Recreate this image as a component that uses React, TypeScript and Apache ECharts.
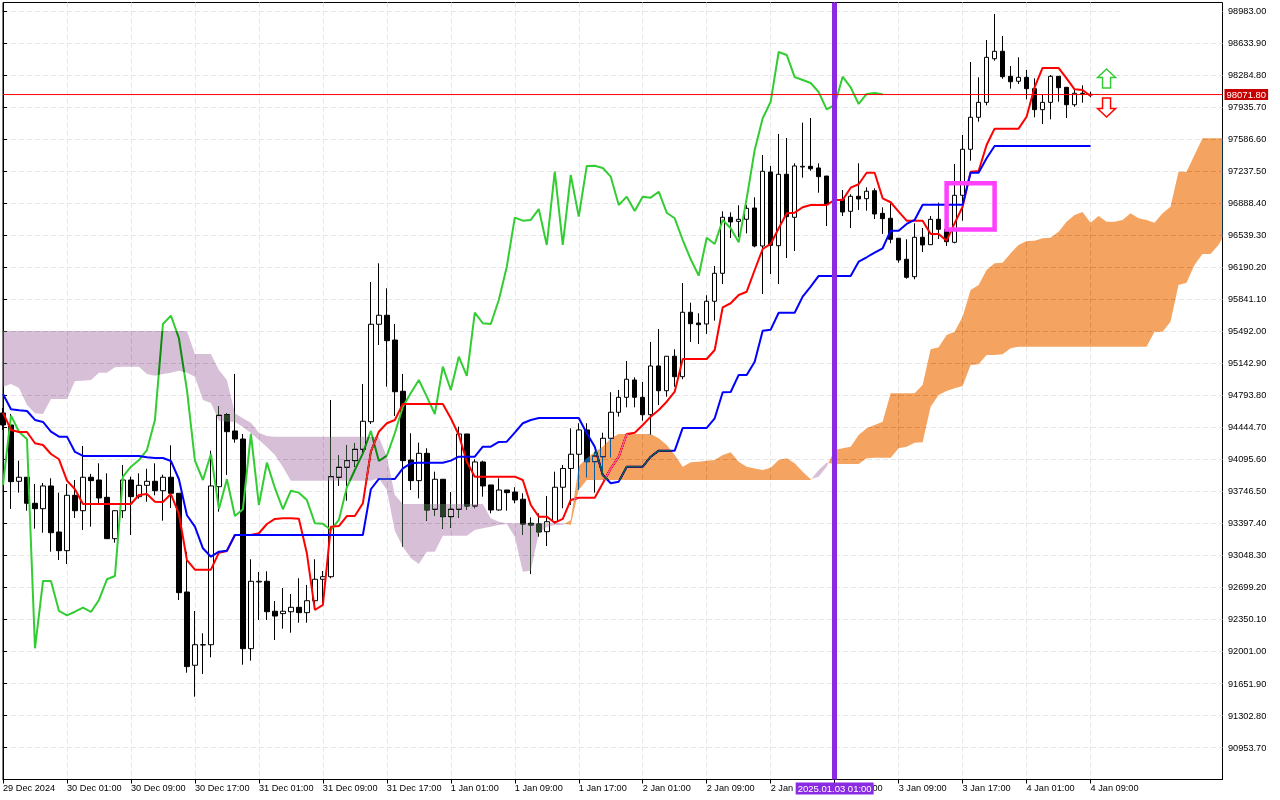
import React, { useEffect, useRef } from "react";
import * as echarts from "echarts";

// Candle series: index = bar number (one bar per hour)
const opens = [
  94603,94472,93858,93902,93618,93559,93807,93305,93101,93705,
  93537,93902,93872,93683,93232,93537,93872,93690,93814,93858,
  93755,93902,93727,92650,91851,92072,92075,93799,94584,94407,
  94319,92032,92760,92767,92440,92414,92435,92483,92425,92555,
  92789,92817,93902,94011,94083,94207,94508,95571,95669,95399,
  94840,94090,93865,94163,93553,93880,93472,93553,94374,93588,
  94069,93818,93545,93763,93741,93662,93400,93392,93308,93417,
  93793,93998,94153,94418,94072,94126,94327,94611,94774,94963,
  94774,94584,95116,94846,95222,94999,95702,95585,95574,95822,
  96127,96738,96694,96716,96839,96425,97232,96428,97207,96738,
  97287,97294,97276,97188,96875,96934,96803,96967,96941,97028,
  96781,96727,96509,96280,96090,96520,96439,96716,96607,96465,
  96978,97480,97829,97992,98468,98549,98276,98222,98265,98141,
  97912,97992,98276,98156,97966,98087,98080,
];
const closes = [
  94472,93854,93902,93618,93559,93807,93297,93101,93705,93537,
  93902,93865,93676,93232,93537,93872,93690,93814,93858,93755,
  93902,93727,92643,91836,92075,92075,93807,94578,94399,94319,
  92032,92767,92767,92435,92388,92440,92483,92425,92555,92789,
  92817,93908,94011,94083,94207,94513,95571,95669,95392,94835,
  94083,93865,94163,93545,93880,93472,93553,94374,93588,94069,
  93807,93545,93763,93734,93654,93392,93381,93305,93417,93793,
  93998,94153,94418,94072,94134,94327,94611,94774,94971,94774,
  94584,95116,94846,95222,94999,95702,95577,95566,95822,96127,
  96738,96687,96716,96836,96425,97240,96432,97207,96745,97298,
  97294,97268,97181,96875,96916,96796,96967,96938,97022,96774,
  96723,96498,96272,96083,96520,96436,96716,96607,96472,96978,
  97480,97829,97992,98483,98549,98272,98217,98265,98141,97912,
  97992,98276,98152,97966,98091,98091,98071.8,
];
const lows = [
  94418,93556,93734,93537,93341,93297,93090,92999,92956,93458,
  93327,93363,93618,93232,93188,93458,93272,93668,93635,93705,
  93428,93567,92563,91770,91508,91756,91938,93526,93927,94279,
  91857,91901,92345,92345,92127,92250,92206,92315,92315,92454,
  92498,92800,93807,93646,94017,94163,94483,95345,94890,94570,
  93145,93763,93672,93428,93479,93341,93352,93461,93545,93564,
  93690,93509,93537,93537,93618,93272,92847,93254,93152,93400,
  93564,93599,93763,93902,93734,93927,94120,94563,94665,94665,
  94519,94363,94690,94781,94890,94971,95378,95356,95465,95610,
  96010,96512,96520,96563,96411,95901,96119,96010,96294,96370,
  97170,97246,97006,96643,96763,96752,96621,96818,96810,96719,
  96556,96454,96243,96068,96062,96359,96436,96501,96425,96454,
  96701,97355,97781,97960,98446,98250,98141,98192,98025,97829,
  97756,97807,97999,97821,97944,97988,98047,
];
const highs = [
  94658,94592,94083,93905,93829,93840,93891,93734,93829,93872,
  94243,93938,94054,93945,93545,94036,93908,93945,93995,94054,
  93930,94251,93730,93090,92443,92200,94192,94679,94603,95029,
  94374,93007,92869,92876,92552,92694,92628,92800,92727,93007,
  92879,94745,94145,94254,94276,94919,96032,96236,95963,95574,
  95029,94382,94279,94218,93963,93883,93741,94454,94374,94098,
  94083,93818,93891,93763,93793,93727,93465,93509,93698,93963,
  94036,94436,94491,94491,94181,94388,94829,94854,95170,94992,
  94941,95378,95519,95225,95298,96021,95806,95691,95887,96207,
  96803,96792,96869,96872,96956,97418,97298,97647,97603,97327,
  97770,97821,97327,97188,96981,97036,96989,97327,97065,97054,
  96847,96891,96512,96498,96672,96621,96752,96897,96610,97319,
  97636,98432,98265,98672,98956,98716,98388,98483,98345,98254,
  98072,98290,98279,98159,98134,98178,98108,
];

// Kijun-sen
const kijun = [
  94810,94643,94632,94625,94527,94505,94399,94345,94345,94178,
  94134,94134,94134,94134,94134,94134,94134,94134,94120,94112,
  94112,94079,93880,93487,93363,93127,93035,93090,93101,93272,
  93272,93272,93272,93272,93272,93272,93272,93272,93272,93272,
  93272,93272,93272,93272,93272,93272,93771,93883,93883,93883,
  93998,94054,94061,94061,94061,94061,94083,94126,94126,94126,
  94235,94235,94287,94290,94388,94491,94527,94549,94549,94549,
  94549,94549,94549,94382,94235,93927,93836,93854,94017,94017,
  94017,94126,94192,94192,94192,94440,94440,94440,94440,94545,
  94829,94832,95018,95018,95163,95501,95512,95697,95697,95697,
  95872,95981,96098,96098,96098,96098,96098,96254,96302,96352,
  96400,96592,96592,96665,96709,96875,96875,96875,96875,96875,
  96875,97224,97224,97382,97516,97516,97516,97516,97516,97516,
  97516,97516,97516,97516,97516,97516,97516,
];
// Tenkan-sen
const tenkan = [
  94606,94418,94396,94396,94273,94254,94156,94098,93865,93771,
  93610,93610,93610,93610,93610,93610,93610,93708,93719,93635,
  93632,93719,93501,92999,92894,92894,92894,93079,93098,93272,
  93272,93272,93291,93392,93447,93455,93455,93450,93072,92454,
  92509,93363,93370,93479,93479,93618,94181,94399,94491,94527,
  94701,94701,94701,94701,94701,94701,94545,94363,94072,93908,
  93908,93908,93908,93908,93908,93872,93599,93472,93472,93406,
  93447,93654,93679,93679,93679,93836,93998,94126,94374,94388,
  94472,94563,94636,94726,94835,95192,95192,95192,95192,95290,
  95756,95800,95890,95926,96163,96392,96447,96618,96782,96788,
  96847,96872,96872,96872,96927,96927,97061,97098,97224,97224,
  96945,96902,96799,96701,96701,96701,96556,96556,96483,96672,
  96853,97235,97243,97527,97705,97705,97705,97705,97835,98156,
  98367,98367,98367,98254,98134,98127,98061,
];
// Chikou span (closes shifted back)
const chikou = [
  93818,94574,94399,94316,92036,92770,92770,92443,92396,92435,
  92479,92432,92563,92789,92825,93908,94017,94090,94199,94527,
  95574,95665,95418,94854,94083,93872,94156,93556,93880,93479,
  93553,94374,93599,94061,93785,93553,93755,93734,93654,93400,
  93395,93327,93436,93793,93981,94163,94407,94079,94137,94382,
  94672,94821,94963,94781,94592,95108,94854,95217,95007,95697,
  95582,95574,95836,96199,96734,96701,96709,96828,96436,97235,
  96436,97199,96745,97298,97301,97276,97181,96872,96963,96807,
  96963,96952,97017,96788,96727,96490,96280,96101,96515,96447,
  96709,96618,96465,96945,97472,97818,97999,98541,98509,98268,
  98236,98203,98105,97916,97963,98272,98156,97974,98083,98094,
  98080,
];
// Senkou span A (runs past the last bar)
const senkouA = [
  94890,94920,94876,94690,94600,94592,94756,94756,94756,94952,
  94955,94963,95043,95043,95102,95108,95108,95108,95029,95010,
  95029,95043,95065,95043,94999,94745,94712,94519,94508,94508,
  94450,94385,94309,94232,94145,94014,93865,93865,93865,93865,
  93865,93865,93865,93865,93865,93865,93865,93891,93763,93316,
  93145,93018,92956,93090,93090,93265,93265,93265,93265,93327,
  93345,93363,93381,93392,93254,92872,92883,93291,93363,93381,
  93381,93436,94025,94109,94181,94235,94327,94374,94374,94374,
  94374,94374,94327,94254,94145,94017,94065,94072,94083,94090,
  94145,94174,94072,94017,93998,93981,94006,94090,94109,94054,
  93963,93880,93908,94017,94199,94218,94235,94363,94436,94472,
  94508,94818,94818,94818,94818,94908,95298,95320,95454,95490,
  95654,95945,96000,96163,96236,96243,96345,96436,96479,96483,
  96509,96515,96581,96690,96763,96796,96679,96752,96690,96690,
  96709,96782,96727,96709,96679,96782,96854,97235,97235,97418,
  97600,97600,97600,97600,
];
// Senkou span B
const senkouB = [
  95498,95498,95498,95498,95498,95498,95498,95498,95498,95498,
  95498,95498,95498,95498,95498,95498,95498,95498,95498,95498,
  95498,95498,95498,95498,95247,95247,95247,95072,94963,94600,
  94545,94497,94388,94352,94345,94345,94345,94345,94345,94345,
  94345,94345,94345,94345,94345,94345,94345,94345,94126,93708,
  93610,93610,93610,93610,93610,93610,93610,93610,93610,93610,
  93610,93454,93417,93400,93400,93400,93400,93400,93400,93400,
  93400,93381,93763,93872,93872,93872,93872,93872,93872,93872,
  93872,93872,93872,93872,93872,93872,93872,93872,93872,93872,
  93872,93872,93872,93872,93872,93872,93872,93872,93872,93872,
  93872,93872,93981,94061,94047,94047,94047,94047,94109,94115,
  94115,94115,94218,94235,94279,94283,94672,94799,94843,94873,
  94898,95127,95135,95236,95236,95243,95309,95326,95326,95326,
  95326,95326,95326,95326,95326,95326,95326,95326,95326,95326,
  95326,95326,95326,95326,95490,95490,95599,96000,96025,96218,
  96338,96338,96436,96512,
];

const priceTicks = [
  98983,98633.9,98284.8,97935.7,97586.6,97237.5,96888.4,96539.3,
  96190.2,95841.1,95492,95142.9,94793.8,94444.7,94095.6,93746.5,
  93397.4,93048.3,92699.2,92350.1,92001,91651.9,91302.8,90953.7,
];
const timeTickBars = [0,8,16,24,32,40,48,56,64,72,80,88,96,104,112,120,128,136];
const timeTickLabels = [
  "29 Dec 2024","30 Dec 01:00","30 Dec 09:00","30 Dec 17:00","31 Dec 01:00","31 Dec 09:00",
  "31 Dec 17:00","1 Jan 01:00","1 Jan 09:00","1 Jan 17:00","2 Jan 01:00","2 Jan 09:00",
  "2 Jan 17:00","3 Jan 01:00","3 Jan 09:00","3 Jan 17:00","4 Jan 01:00","4 Jan 09:00",
];

const lastPrice = 98071.8;
const lastPriceLineLevel = 98077; // where the terminal's rounding puts the 1px line
const markerBar = 104;
const markerLabel = "2025.01.03 01:00";
const boxBars = [118, 124];
const boxPrices = [97109, 96605];
const arrowRows = [
  [138, 98355, 1],
  [138, 97832, -1],
];

const X_MAX = 152.5;
const Y_MIN = 90604.6;
const Y_STEP = 349.1;
const Y_MAX = 99081.18;

// The terminal paints the cloud in an xor-like way; "difference" with the
// inverted colour gives the same result over white, black and the lines.
const THISTLE_INV = "#274027";
const ORANGE_INV = "#0b5b9f";

type Region = { points: number[][]; up: boolean };
function buildRegions(a: number[], b: number[]): Region[] {
  const out: Region[] = [];
  let up = a[0] >= b[0];
  let ap: number[][] = [[0, a[0]]];
  let bp: number[][] = [[0, b[0]]];
  const n = Math.min(a.length, b.length);
  for (let k = 1; k < n; k++) {
    const s = a[k] >= b[k];
    if (s !== up) {
      const d0 = a[k - 1] - b[k - 1];
      const d1 = a[k] - b[k];
      const t = d0 / (d0 - d1);
      const cross = [k - 1 + t, a[k - 1] + t * (a[k] - a[k - 1])];
      ap.push(cross);
      bp.push(cross);
      out.push({ points: [...ap, ...bp.slice().reverse()], up });
      ap = [cross];
      bp = [cross];
      up = s;
    }
    ap.push([Math.min(k, X_MAX), a[k]]);
    bp.push([Math.min(k, X_MAX), b[k]]);
  }
  out.push({ points: [...ap, ...bp.slice().reverse()], up });
  return out;
}

const FONT = "Liberation Sans";

export default function App() {
  const ref = useRef<HTMLDivElement>(null);
  useEffect(() => {
    if (!ref.current) return;
    document.body.style.margin = "0";
    const chart = echarts.init(ref.current, null, { renderer: "svg" });
    const regions = buildRegions(senkouA, senkouB);
    const candles = opens.map((o, i) => [i, o, closes[i], lows[i], highs[i]]);
    const toLine = (v: number[]) => v.map((p, i) => [i, p]);
    const line = (name: string, data: number[], color: string, z: number) => ({
      type: "line",
      name,
      data: toLine(data),
      symbol: "none",
      lineStyle: { color, width: 2 },
      z,
      silent: true,
    });

    chart.setOption({
      animation: false,
      backgroundColor: "#ffffff",
      tooltip: { show: false },
      legend: { show: false },
      grid: {
        left: 2.5,
        top: 2.5,
        width: 1220,
        height: 777,
        show: true,
        borderColor: "#000",
        borderWidth: 1,
        backgroundColor: "transparent",
      },
      xAxis: {
        type: "value",
        min: 0,
        max: X_MAX,
        interval: 4,
        axisLine: { show: true, lineStyle: { color: "#000" } },
        axisTick: { show: true, length: 4, customValues: timeTickBars, lineStyle: { color: "#000" } },
        axisLabel: {
          customValues: timeTickBars,
          align: "left",
          margin: 4,
          color: "#000",
          fontFamily: FONT,
          fontSize: 9.2,
          formatter: (v: number) => timeTickLabels[timeTickBars.indexOf(v)] ?? "",
        },
        splitLine: { show: true, lineStyle: { color: "#e6e6e6", type: [5, 3], width: 1 } },
      },
      yAxis: {
        type: "value",
        position: "right",
        min: Y_MIN,
        max: Y_MAX,
        interval: Y_STEP,
        axisLine: { show: true, lineStyle: { color: "#000" } },
        axisTick: { show: true, length: 4, customValues: priceTicks, lineStyle: { color: "#000" } },
        axisLabel: {
          customValues: priceTicks,
          margin: 5.5,
          color: "#000",
          fontFamily: FONT,
          fontSize: 9.2,
          padding: [0, 0, 2, 0],
          formatter: (v: number) => v.toFixed(2),
        },
        splitLine: { show: true, lineStyle: { color: "#e6e6e6", type: [5, 3], width: 1 } },
      },
      graphic: [
        { type: "rect", z: 1, silent: true, shape: { x: 1121, y: 3, width: 101, height: 23 }, style: { fill: "#fff" } },
      ],
      series: [
        {
          type: "candlestick",
          name: "BTC",
          data: candles,
          encode: { x: 0, y: [1, 2, 3, 4] },
          barWidth: 5,
          itemStyle: { color: "#ffffff", color0: "#000000", borderColor: "#000000", borderColor0: "#000000", borderWidth: 1 },
          z: 2,
          silent: true,
        },
        line("Chikou", chikou, "#32CD32", 3),
        line("Tenkan", tenkan, "#FF0000", 3),
        line("Kijun", kijun, "#0000FF", 3),
        {
          type: "custom",
          name: "Cloud",
          data: regions.map((_, i) => [i]),
          clip: false,
          silent: true,
          z: 4,
          renderItem: (params: any, api: any) => {
            const r = regions[params.dataIndex];
            return {
              type: "polygon",
              shape: { points: r.points.map((p) => api.coord(p)) },
              style: { fill: r.up ? ORANGE_INV : THISTLE_INV },
            };
          },
        },
        {
          type: "line",
          name: "Last",
          data: [[0, lastPriceLineLevel], [X_MAX, lastPriceLineLevel]],
          symbol: "none",
          silent: true,
          z: 5,
          lineStyle: { color: "#FF0000", width: 1 },
          endLabel: {
            show: true,
            distance: 2,
            formatter: lastPrice.toFixed(2),
            color: "#fff",
            backgroundColor: "#C80000",
            padding: [1, 2, 0, 2],
            fontFamily: FONT,
            fontSize: 9.5,
          },
        },
        {
          type: "line",
          name: "Marker",
          data: [],
          silent: true,
          z: 5,
          markLine: {
            silent: true,
            symbol: "none",
            animation: false,
            data: [
              {
                xAxis: markerBar,
                lineStyle: { color: "#8A2BE2", width: 5, type: "solid" },
                label: {
                  position: "start",
                  distance: 3,
                  formatter: markerLabel,
                  color: "#fff",
                  backgroundColor: "#8A2BE2",
                  padding: [1, 2, 1, 2],
                  fontFamily: FONT,
                  fontSize: 9.5,
                },
              },
            ],
          },
        },
        {
          type: "custom",
          name: "Box",
          data: [[boxBars[0], boxPrices[0], boxBars[1], boxPrices[1]]],
          encode: { x: [0, 2], y: [1, 3] },
          silent: true,
          z: 6,
          renderItem: (_: any, api: any) => {
            const a = api.coord([api.value(0), api.value(1)]);
            const b = api.coord([api.value(2), api.value(3)]);
            return {
              type: "rect",
              shape: { x: a[0], y: a[1], width: b[0] - a[0], height: b[1] - a[1] },
              style: { fill: "none", stroke: "#FF40FF", lineWidth: 4.5 },
            };
          },
        },
        {
          type: "custom",
          name: "Arrows",
          data: arrowRows,
          encode: { x: 0, y: 1 },
          silent: true,
          z: 6,
          renderItem: (_: any, api: any) => {
            const c = api.coord([api.value(0), api.value(1)]);
            const d = api.value(2);
            const shape = [[0, 0], [9, 8.5], [4, 8.5], [4, 19], [-4, 19], [-4, 8.5], [-9, 8.5]];
            return {
              type: "polygon",
              shape: { points: shape.map(([dx, dy]) => [c[0] + dx, c[1] + dy * d]) },
              style: { fill: "#fff", stroke: d > 0 ? "#32CD32" : "#FF0000", lineWidth: 1.5 },
            };
          },
        },
      ],
    });

    const applyBlend = () => {
      ref.current?.querySelectorAll("path").forEach((p) => {
        const f = (p.getAttribute("fill") || "").toLowerCase().replace(/\s/g, "");
        if (f === THISTLE_INV || f === ORANGE_INV || f === "rgb(39,64,39)" || f === "rgb(11,91,159)") {
          (p as SVGElement).style.mixBlendMode = "difference";
        }
      });
    };
    applyBlend();
    chart.on("rendered", applyBlend);
    return () => chart.dispose();
  }, []);
  return <div ref={ref} style={{ width: 1280, height: 800 }} />;
}
